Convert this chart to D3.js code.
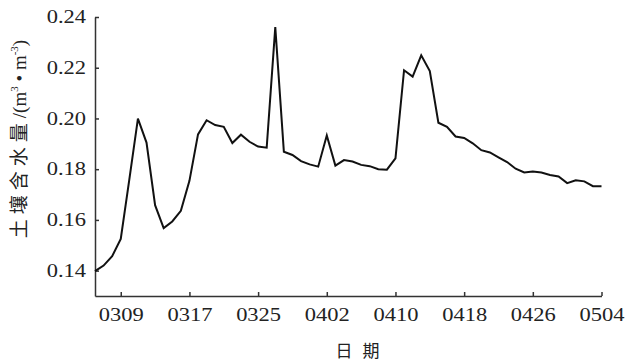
<!DOCTYPE html>
<html>
<head>
<meta charset="utf-8">
<script src="https://cdn.jsdelivr.net/npm/d3@7"></script>
<style>
  body { margin: 0; background: #fff; }
  text { font-family: "Liberation Serif", serif; fill: #222; }
</style>
</head>
<body>
<div class="chart-container"></div>
<script>
// daily soil moisture, 0306 .. 0504
const dates = [
  "0306","0307","0308","0309","0310","0311","0312","0313","0314","0315",
  "0316","0317","0318","0319","0320","0321","0322","0323","0324","0325",
  "0326","0327","0328","0329","0330","0331","0401","0402","0403","0404",
  "0405","0406","0407","0408","0409","0410","0411","0412","0413","0414",
  "0415","0416","0417","0418","0419","0420","0421","0422","0423","0424",
  "0425","0426","0427","0428","0429","0430","0501","0502","0503","0504"
];
const moisture = [
  0.1398, 0.1420, 0.1457, 0.1525, 0.1760, 0.1999, 0.1905, 0.1658, 0.1568, 0.1594,
  0.1636, 0.1754, 0.1937, 0.1993, 0.1974, 0.1967, 0.1903, 0.1936, 0.1908, 0.1889,
  0.1885, 0.2360, 0.1869, 0.1856, 0.1832, 0.1819, 0.1810, 0.1933, 0.1814, 0.1836,
  0.1830, 0.1817, 0.1812, 0.1800, 0.1798, 0.1843, 0.2190, 0.2165, 0.2249, 0.2187,
  0.1983, 0.1967, 0.1929, 0.1923, 0.1902, 0.1875, 0.1866, 0.1847, 0.1828, 0.1802,
  0.1787, 0.1791, 0.1787, 0.1777, 0.1771, 0.1745, 0.1756, 0.1752, 0.1733, 0.1733
];
const xTicks = ["0309","0317","0325","0402","0410","0418","0426","0504"];
const yTicks = [0.14, 0.16, 0.18, 0.20, 0.22, 0.24];

const parse = d3.timeParse("%Y%m%d");
const toDate = s => parse("2020" + s);

const width = 625, height = 361;
const svg = d3.select(".chart-container").append("svg")
    .attr("width", width)
    .attr("height", height);

const x = d3.scaleTime()
    .domain([toDate(dates[0]), toDate(dates[dates.length - 1])])
    .range([95, 601.5]);

const y = d3.scaleLinear()
    .domain([0.13, 0.24])
    .range([296, 17]);

const stretch = 1.25;

// x axis
const gx = svg.append("g")
    .attr("transform", "translate(0," + y(0.13) + ")")
    .call(d3.axisBottom(x)
        .tickValues(xTicks.map(toDate))
        .tickFormat(d3.timeFormat("%m%d"))
        .tickSize(-4)
        .tickSizeOuter(0)
        .tickPadding(12));
gx.selectAll("text")
    .attr("font-size", 18)
    .attr("transform", "scale(" + stretch + ",1)");

// y axis
const gy = svg.append("g")
    .attr("transform", "translate(95,0)")
    .call(d3.axisLeft(y)
        .tickValues(yTicks)
        .tickFormat(d3.format(".2f"))
        .tickSize(-4)
        .tickSizeOuter(0));
gy.selectAll("text")
    .attr("font-size", 18)
    .attr("x", -9 / stretch)
    .attr("transform", "scale(" + stretch + ",1)");

svg.selectAll(".domain, .tick line")
    .attr("stroke", "#333")
    .attr("stroke-width", 1.5);
svg.selectAll(".tick text").attr("fill", "#222");

// line
const line = d3.line()
    .x((d, i) => x(toDate(dates[i])))
    .y(d => y(d));

svg.append("path")
    .datum(moisture)
    .attr("d", line)
    .attr("fill", "none")
    .attr("stroke", "#111")
    .attr("stroke-width", 2)
    .attr("stroke-linejoin", "miter");

// axis titles
const cjk = "'Noto Sans CJK SC', sans-serif";
svg.selectAll(".xtitle")
    .data([["日", 344], ["期", 371]])
    .join("text")
    .attr("class", "xtitle")
    .attr("x", d => d[1])
    .attr("y", 357)
    .attr("text-anchor", "middle")
    .attr("font-size", 17)
    .style("font-family", cjk)
    .text(d => d[0]);

const yl = svg.append("text")
    .attr("transform", "translate(26,139) rotate(-90)")
    .attr("text-anchor", "middle")
    .attr("font-size", 19);
yl.append("tspan").style("font-family", cjk).attr("font-size", 19)
    .attr("letter-spacing", 5).text("土壤含水量");
yl.append("tspan").text("/(m");
yl.append("tspan").attr("font-size", 11).attr("dy", -8).text("3");
yl.append("tspan").attr("dy", 8).text(" • m");
yl.append("tspan").attr("font-size", 11).attr("dy", -8).text("-3");
yl.append("tspan").attr("dy", 8).text(")");
</script>
</body>
</html>
